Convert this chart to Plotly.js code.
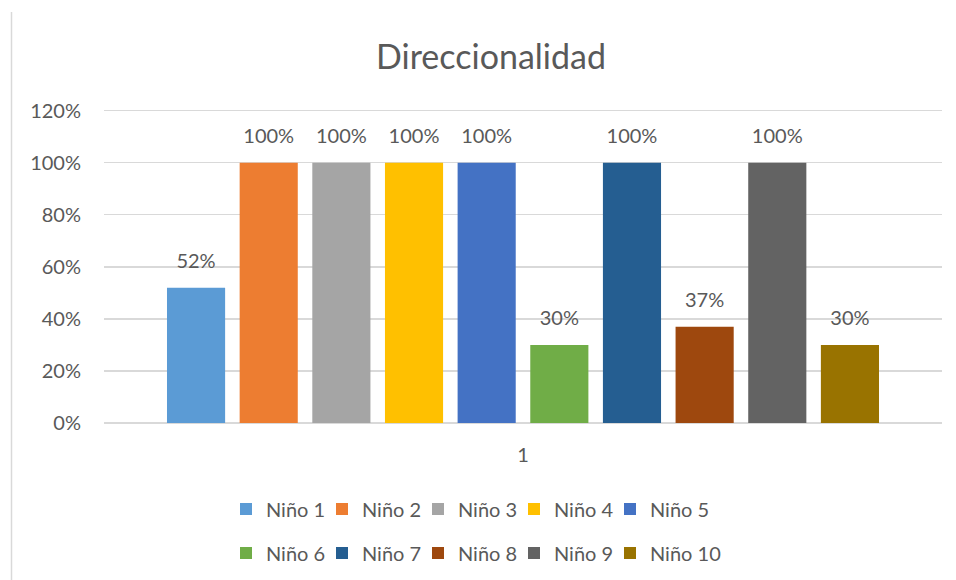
<!DOCTYPE html>
<html>
<head>
<meta charset="utf-8">
<script src="https://cdn.plot.ly/plotly-3.0.1.min.js"></script>
<style>html,body{margin:0;padding:0;background:#fff;}#chart{width:956px;height:580px;}</style>
</head>
<body>
<div id="chart"></div>
<script>
const categories = ["1"];
const seriesNames = ["Niño 1","Niño 2","Niño 3","Niño 4","Niño 5","Niño 6","Niño 7","Niño 8","Niño 9","Niño 10"];
const seriesValues = [0.52, 1.00, 1.00, 1.00, 1.00, 0.30, 1.00, 0.37, 1.00, 0.30];
const seriesColors = ["#5B9BD5","#ED7D31","#A5A5A5","#FFC000","#4472C4","#70AD47","#255E91","#9E480E","#636363","#997300"];
const yTickVals = [0, 0.2, 0.4, 0.6, 0.8, 1.0, 1.2];
const yTickText = ["0%","20%","40%","60%","80%","100%","120%"];

const FONT = "Lato, 'Open Sans', sans-serif";
const TXT = "#595959";
const FS = 20;

const barTraces = seriesNames.map((name, i) => ({
  type: "bar",
  name: name,
  x: categories,
  y: [seriesValues[i]],
  marker: {color: seriesColors[i]},
  hoverinfo: "name+y",
  legend: i < 5 ? "legend" : "legend2"
}));

// value labels, grouped like the bars
const labelTraces = seriesNames.map((name, i) => ({
  type: "scatter",
  mode: "markers+text",
  name: name + " label",
  x: categories,
  y: [seriesValues[i]],
  text: [Math.round(seriesValues[i]*100) + "%"],
  textposition: "top center",
  textfont: {family: FONT, size: FS, color: TXT},
  marker: {size: 22, color: "rgba(0,0,0,0)"},
  cliponaxis: false,
  showlegend: false,
  hoverinfo: "skip"
}));

// blank legend entries so the last visible entry in each row is not clipped
const spacerTraces = ["legend", "legend2"].map(lg => ({
  type: "scatter",
  mode: "markers",
  name: " ",
  x: [null],
  y: [null],
  visible: "legendonly",
  marker: {color: "rgba(0,0,0,0)"},
  showlegend: true,
  legend: lg
}));

const plotL = 104, plotR = 942, plotT = 108, plotB = 423;
const pw = plotR - plotL, ph = plotB - plotT;

const legendCommon = {
  orientation: "h",
  xanchor: "left",
  yanchor: "middle",
  font: {family: FONT, size: FS, color: TXT},
  bgcolor: "rgba(0,0,0,0)",
  itemwidth: 30,
  entrywidth: 51,
  entrywidthmode: "pixels",
  traceorder: "normal",
  itemclick: false,
  itemdoubleclick: false
};

const layout = {
  width: 956,
  height: 580,
  paper_bgcolor: "#ffffff",
  plot_bgcolor: "#ffffff",
  margin: {l: plotL, r: 956 - plotR, t: plotT, b: 580 - plotB, autoexpand: false},
  font: {family: FONT, color: TXT},
  title: {
    text: "Direccionalidad",
    font: {family: FONT, size: 34, color: TXT},
    x: 491/956, xanchor: "center", xref: "container",
    y: 1 - 57/580, yanchor: "middle", yref: "container"
  },
  showlegend: true,
  barmode: "group",
  bargap: 0.133,
  bargroupgap: 0.2,
  scattermode: "group",
  scattergap: 0.133,
  xaxis: {
    type: "category",
    showgrid: false,
    showline: false,
    zeroline: false,
    ticks: "",
    ticklabelstandoff: 18,
    tickfont: {family: FONT, size: FS, color: TXT}
  },
  yaxis: {
    range: [0, 1.21],
    tickvals: yTickVals,
    ticktext: yTickText,
    showgrid: true,
    gridcolor: "#D9D9D9",
    gridwidth: 1.5,
    zeroline: true,
    zerolinecolor: "#D9D9D9",
    zerolinewidth: 1.5,
    showline: false,
    ticks: "",
    ticklabelstandoff: 22,
    tickfont: {family: FONT, size: FS, color: TXT}
  },
  legend: Object.assign({}, legendCommon, {x: (226 - plotL)/pw, y: (plotB - 509)/ph}),
  legend2: Object.assign({}, legendCommon, {x: (226 - plotL)/pw, y: (plotB - 553)/ph}),
  shapes: [{
    type: "line", xref: "paper", yref: "paper",
    x0: (11.5 - plotL)/pw, x1: (11.5 - plotL)/pw,
    y0: (plotB - 580)/ph, y1: (plotB - 12)/ph,
    line: {color: "#D9D9D9", width: 1.5}
  }]
};

Plotly.newPlot("chart", barTraces.concat(labelTraces, spacerTraces), layout, {displayModeBar: false, staticPlot: true});
</script>
</body>
</html>
